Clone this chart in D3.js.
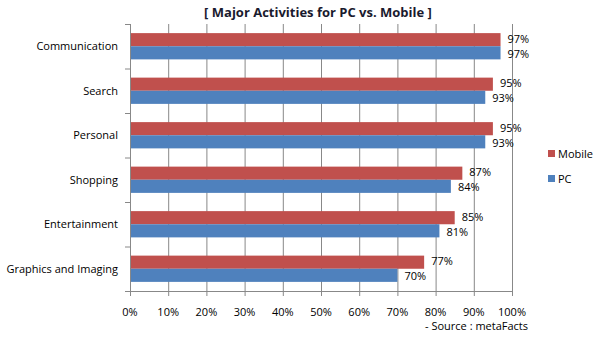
<!DOCTYPE html>
<html><head><meta charset="utf-8">
<script src="https://cdn.jsdelivr.net/npm/d3@7"></script>
<style>body{margin:0;background:#fff}text{font-family:"Open Sans","DejaVu Sans",sans-serif}</style>
</head><body><svg id="c" width="599" height="340"></svg>
<script>
const categories = ["Communication","Search","Personal","Shopping","Entertainment","Graphics and Imaging"];
const mobile = [97,95,95,87,85,77];
const pc = [97,93,93,84,81,70];
const seriesNames = ["Mobile","PC"];
const colors = ["#C0504D","#4F81BD"];
const xTicks = [0,10,20,30,40,50,60,70,80,90,100];

const svg = d3.select("#c");
const L=130, R=512, T=24, B=291;
const x = d3.scaleLinear().domain([0,100]).range([L,R]);
const y = d3.scaleBand().domain(categories).range([T,B]).paddingInner(0.41).paddingOuter(0.205);
const y2 = d3.scaleBand().domain(seriesNames).range([0,y.bandwidth()]);

// gridlines
svg.append("g").selectAll("line").data(xTicks.slice(1)).join("line")
  .attr("x1",d=>x(d)+0.5).attr("x2",d=>x(d)+0.5).attr("y1",T).attr("y2",B)
  .attr("stroke","#888").attr("stroke-width",1);

// bars
const data = categories.map((c,i)=>({c, vals:[mobile[i],pc[i]]}));
const g = svg.append("g");
data.forEach(d=>{
  d.vals.forEach((v,j)=>{
    g.append("rect").attr("x",x(0)).attr("y",y(d.c)+y2(seriesNames[j]))
     .attr("width",x(v)-x(0)).attr("height",y2.bandwidth()).attr("fill",colors[j]);
    g.append("text").attr("x",x(v)+7).attr("y",y(d.c)+y2(seriesNames[j])+y2.bandwidth()/2+(j===0?3:5))
     .attr("font-size",11).attr("fill","#000").text(v+"%");
  });
});

// left axis
const step = (B-T)/categories.length;
const ax = svg.append("g");
ax.append("line").attr("x1",L+0.5).attr("x2",L+0.5).attr("y1",T).attr("y2",B).attr("stroke","#888");
d3.range(categories.length+1).forEach(i=>{
  ax.append("line").attr("x1",L-5).attr("x2",L).attr("y1",T+i*step+0.5).attr("y2",T+i*step+0.5).attr("stroke","#888");
});
ax.selectAll("text.cat").data(categories).join("text")
  .attr("x",L-12).attr("y",d=>y(d)+y.bandwidth()/2+4).attr("text-anchor","end")
  .attr("font-size",11).text(d=>d);

// bottom axis
const bx = svg.append("g");
bx.append("line").attr("x1",L).attr("x2",R+1).attr("y1",B+0.5).attr("y2",B+0.5).attr("stroke","#888");
xTicks.forEach(t=>{
  bx.append("line").attr("x1",x(t)+0.5).attr("x2",x(t)+0.5).attr("y1",B).attr("y2",B+5).attr("stroke","#888");
  bx.append("text").attr("x",x(t)).attr("y",B+25).attr("text-anchor","middle").attr("font-size",11).text(t+"%");
});

svg.append("text").attr("x",528).attr("y",330).attr("text-anchor","end").attr("font-size",11).text("- Source : metaFacts");

// title
svg.append("text").attr("x",318).attr("y",17).attr("text-anchor","middle").attr("font-size",13)
  .attr("font-weight","bold").attr("fill","#1a1a2e").text("[ Major Activities  for PC vs. Mobile ]");

// legend
seriesNames.forEach((s,i)=>{
  const yy = 154 + i*25;
  svg.append("rect").attr("x",548).attr("y",yy-4).attr("width",7).attr("height",7).attr("fill",colors[i]);
  svg.append("text").attr("x",558).attr("y",yy+4).attr("font-size",11).text(s);
});
</script></body></html>
